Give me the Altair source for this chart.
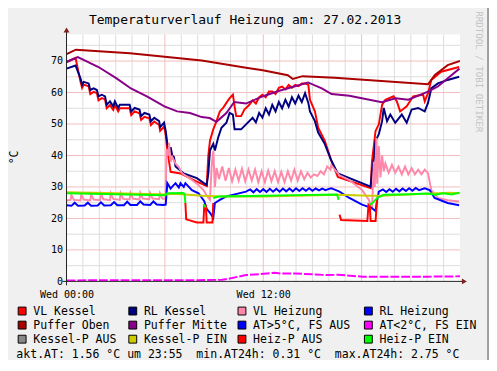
import altair as alt
import pandas as pd

FONT = "DejaVu Sans Mono"

title_text = "Temperaturverlauf Heizung am: 27.02.2013"
side_text = "RRDTOOL / TOBI OETIKER"
unit_text = "°C"
info_text = "akt.AT: 1.56 °C um 23:55  min.AT24h: 0.31 °C  max.AT24h: 2.75 °C"

series_names = ["VL Kessel", "RL Kessel", "VL Heizung", "RL Heizung",
                "Puffer Oben", "Puffer Mitte", "AT>5°C, FS AUS", "AT<2°C, FS EIN",
                "Kessel-P AUS", "Kessel-P EIN", "Heiz-P AUS", "Heiz-P EIN"]
series_colors = ["#FF0000", "#000080", "#FF88AA", "#0000FF",
                 "#AA0000", "#880088", "#0000FF", "#FF00FF",
                 "#888888", "#CCCC00", "#FF0000", "#00FF00"]

x_tick_hours = [0, 12]
x_tick_labels = ["Wed 00:00", "Wed 12:00"]
y_ticks = [0, 10, 20, 30, 40, 50, 60, 70]
x_grid_minor = [1, 2, 3, 4, 5, 7, 8, 9, 10, 11, 13, 14, 15, 16, 17, 19, 20, 21, 22, 23]
x_grid_major = [6, 12, 18]
y_grid_minor = [5, 15, 25, 35, 45, 55, 65, 75]
y_grid_major = [10, 20, 30, 40, 50, 60, 70]

# (hour, °C)
vl_kessel = [[(0, 69.7), (0.55, 71.0), (0.75, 66.0), (0.85, 63.5), (0.95, 61.5), (1.05, 62.5), (1.35, 62.0),
              (1.45, 59.5), (1.65, 60.2), (1.85, 59.8), (1.95, 57.5), (2.15, 58.2), (2.35, 57.8), (2.45, 55.0),
              (2.65, 56.0), (2.85, 54.5), (2.95, 56.0), (3.15, 54.0), (3.25, 55.0), (3.85, 55.0), (3.95, 52.8),
              (4.15, 54.0), (4.45, 53.4), (4.55, 51.3), (4.75, 52.3), (5.05, 51.8), (5.15, 49.7), (5.35, 50.8),
              (5.65, 49.7), (5.71, 47.8), (5.95, 49.2), (6.05, 46.5), (6.15, 41.6), (6.35, 34.8), (6.95, 34.3),
              (7.95, 31.7), (8.55, 30.3), (8.65, 40.0), (8.75, 44.7), (8.95, 48.3), (9.15, 50.9), (9.35, 54.0),
              (9.55, 55.1), (9.75, 56.7), (9.95, 58.2), (10.15, 59.3), (10.25, 55.6), (10.35, 52.5), (10.65, 52.5),
              (10.85, 54.6), (11.15, 56.1), (11.35, 57.5), (11.55, 56.5), (11.75, 58.5), (11.95, 59.3), (12.15, 58.5),
              (12.35, 60.3), (12.55, 60.3), (12.75, 59.5), (12.95, 61.5), (13.15, 61.9), (13.35, 61.0), (13.55, 62.4),
              (13.75, 61.5), (13.95, 62.4), (14.15, 62.0), (14.35, 62.9), (14.55, 62.9), (14.75, 62.4), (14.85, 57.7),
              (15.15, 54.0), (15.35, 48.8), (15.75, 44.7), (16.15, 38.4), (16.55, 33.2), (18.55, 29.6), (18.63, 38.0),
              (18.85, 47.8), (19.05, 49.9), (19.25, 56.1), (19.45, 57.7), (19.95, 58.8), (20.15, 57.2), (20.35, 54.0),
              (20.75, 55.6), (21.15, 58.8), (21.75, 59.3), (21.85, 57.2), (22.05, 59.8), (22.25, 64.0), (22.85, 66.6),
              (23.95, 68.1)]]

rl_kessel = [[(0, 67.6), (0.55, 68.6), (0.85, 64.5), (0.95, 62.4), (1.05, 63.4), (1.35, 62.9), (1.45, 60.8),
              (1.65, 61.3), (1.85, 60.8), (1.95, 58.8), (2.15, 59.3), (2.35, 58.8), (2.45, 56.1), (2.65, 57.2),
              (2.85, 55.6), (2.95, 57.2), (3.15, 55.1), (3.25, 56.1), (3.85, 56.1), (3.95, 54.0), (4.15, 55.1),
              (4.45, 54.6), (4.55, 52.5), (4.75, 53.5), (5.05, 53.0), (5.15, 50.9), (5.35, 52.0), (5.65, 50.9),
              (5.71, 49.0), (5.95, 50.4), (6.05, 47.8), (6.15, 43.7), (6.25, 40.5), (6.35, 42.6), (6.45, 40.0),
              (6.55, 39.5), (6.65, 36.5), (7.15, 34.3), (7.95, 32.8), (8.55, 30.6), (8.65, 34.3), (8.75, 41.6),
              (8.95, 43.7), (9.05, 41.6), (9.25, 45.7), (9.45, 48.8), (9.75, 50.4), (9.95, 53.5), (10.15, 53.0),
              (10.25, 48.3), (10.65, 48.3), (10.95, 49.9), (11.35, 52.0), (11.55, 50.5), (11.75, 53.5), (11.95, 52.0),
              (12.15, 55.0), (12.35, 53.0), (12.55, 56.1), (12.75, 54.0), (12.95, 57.0), (13.15, 55.0), (13.35, 57.7),
              (13.55, 55.5), (13.75, 58.5), (13.95, 56.5), (14.15, 59.0), (14.35, 57.0), (14.55, 59.8), (14.75, 56.7),
              (14.85, 54.0), (15.15, 50.9), (15.35, 47.3), (15.75, 43.7), (16.15, 38.4), (16.55, 34.3), (18.55, 30.1),
              (18.63, 35.0), (18.75, 39.0), (18.85, 44.7), (19.05, 46.8), (19.25, 50.9), (19.35, 55.1), (19.55, 50.9),
              (19.75, 53.0), (20.05, 50.4), (20.45, 53.0), (20.75, 50.4), (21.05, 54.6), (21.45, 55.1), (21.85, 54.0),
              (22.05, 56.7), (22.25, 61.3), (22.65, 62.9), (23.25, 64.0), (23.95, 65.0)]]

vl_heizung = [[(0, 25.7), (0.25, 25.9), (0.3, 27.4), (0.45, 25.9), (0.85, 25.7), (0.9, 27.5), (1.05, 26.0),
               (1.45, 25.7), (1.5, 27.6), (1.65, 26.0), (2.05, 25.8), (2.1, 27.8), (2.25, 26.1), (2.65, 25.8),
               (2.7, 27.9), (2.85, 26.2), (3.25, 25.9), (3.3, 28.0), (3.45, 26.2), (3.85, 26.0), (3.9, 28.1),
               (4.05, 26.3), (4.45, 26.0), (4.5, 28.1), (4.65, 26.3), (5.05, 26.1), (5.1, 28.1), (5.25, 26.3),
               (5.65, 26.1), (5.7, 28.0), (5.85, 26.3), (6.05, 26.2), (6.1, 42.0), (6.2, 40.0), (6.25, 44.0),
               (6.35, 38.0), (6.45, 39.5), (6.65, 37.4), (6.85, 36.3), (7.05, 34.3), (7.65, 32.2), (8.05, 30.6),
               (8.35, 29.0), (8.65, 26.5), (8.75, 25.9), (8.85, 36.3), (8.95, 41.5), (9.05, 30.0), (9.15, 36.0),
               (9.3, 32.5), (9.5, 36.5), (9.7, 32.0), (9.9, 36.0), (10.1, 31.8), (10.3, 35.5), (10.5, 32.0),
               (10.7, 35.8), (10.9, 31.8), (11.1, 35.5), (11.3, 32.0), (11.5, 35.5), (11.7, 31.5), (11.9, 35.0),
               (12.1, 31.5), (12.3, 35.2), (12.5, 31.8), (12.7, 35.0), (12.9, 31.5), (13.1, 34.8), (13.3, 31.5),
               (13.5, 35.0), (13.7, 32.0), (13.9, 35.5), (14.1, 32.0), (14.3, 35.0), (14.5, 32.5), (14.7, 34.5),
               (14.9, 33.0), (15.1, 34.0), (15.3, 33.5), (15.5, 35.0), (15.7, 34.0), (15.9, 36.5), (16.1, 35.5),
               (16.15, 36.9), (16.65, 33.7), (17.25, 32.2), (18.03, 29.0), (18.45, 25.9), (18.63, 22.8), (18.75, 38.0),
               (18.8, 30.0), (18.9, 45.6), (18.95, 31.0), (19.05, 43.0), (19.15, 33.0), (19.25, 40.0), (19.35, 35.0),
               (19.45, 37.5), (19.65, 34.5), (19.85, 37.0), (20.05, 34.5), (20.25, 36.5), (20.45, 34.0), (20.65, 36.5),
               (20.85, 34.0), (21.05, 36.0), (21.25, 34.0), (21.45, 35.5), (21.65, 34.0), (21.85, 35.5), (22.05, 34.3),
               (22.25, 29.0), (22.65, 26.5), (23.25, 25.8), (23.95, 25.4)]]

rl_heizung = [[(0, 24.2), (0.3, 24.0), (0.5, 25.0), (0.7, 24.0), (1.1, 24.1), (1.3, 25.0), (1.5, 24.0),
               (1.9, 24.1), (2.1, 25.1), (2.3, 24.1), (2.7, 24.2), (2.9, 25.2), (3.1, 24.2), (3.5, 24.2),
               (3.7, 25.3), (3.9, 24.3), (4.3, 24.3), (4.5, 25.4), (4.7, 24.4), (5.1, 24.3), (5.3, 25.4),
               (5.5, 24.4), (5.9, 24.3), (6.05, 24.4), (6.15, 31.2), (6.35, 29.5), (6.45, 30.1), (6.65, 31.2),
               (6.85, 29.8), (6.95, 31.2), (7.15, 30.0), (7.25, 31.2), (7.65, 29.0), (8.05, 28.0), (8.4, 25.5),
               (8.55, 23.0), (8.75, 21.8), (8.95, 20.2), (9.05, 24.9), (9.35, 25.9), (9.75, 27.0), (10.95, 28.5),
               (11.2, 29.2), (11.4, 28.3), (11.6, 29.3), (11.8, 28.4), (12.0, 29.3), (12.2, 28.4), (12.4, 29.4),
               (12.6, 28.5), (12.8, 29.4), (13.0, 28.5), (13.2, 29.5), (13.4, 28.6), (13.6, 29.5), (13.8, 28.6),
               (14.0, 29.6), (14.2, 28.7), (14.4, 29.6), (14.6, 28.8), (14.8, 29.6), (15.0, 28.8), (15.2, 29.5),
               (15.4, 28.9), (15.6, 29.5), (15.8, 29.0), (16.0, 29.4), (16.15, 29.6), (16.65, 28.5), (17.25, 26.5),
               (18.03, 24.4), (18.63, 23.3), (18.85, 22.3), (18.95, 26.0), (19.05, 28.5), (19.3, 29.2), (19.5, 28.4),
               (19.7, 29.3), (19.9, 28.5), (20.1, 29.4), (20.3, 28.6), (20.5, 29.5), (20.7, 28.7), (20.9, 29.6),
               (21.1, 28.8), (21.3, 29.7), (21.5, 29.0), (21.85, 29.6), (22.15, 29.0), (22.45, 26.5), (23.25, 24.9),
               (23.95, 24.2)]]

puffer_oben = [[(0, 72.2), (0.57, 73.6), (3.87, 72.5), (8.25, 70.2), (10.95, 67.9), (11.97, 67.1), (13.5, 65.5),
                (13.8, 64.3), (14.4, 65.2), (16.35, 64.7), (22.05, 62.6), (22.47, 65.6), (23.25, 68.7), (24, 70.0)]]

puffer_mitte = [[(0, 69.7), (0.69, 71.25), (1.95, 68.1), (3.05, 64.5), (3.93, 61.3), (4.9, 58.75), (5.97, 55.6),
                 (6.75, 54.0), (7.53, 53.5), (8.25, 52.2), (8.73, 51.9), (9.15, 50.7), (9.75, 53.5), (10.23, 57.0),
                 (10.95, 56.5), (11.95, 58.75), (12.93, 60.5), (14.73, 63.2), (15.57, 61.3), (16.17, 59.5),
                 (17.25, 59.0), (19.23, 56.9), (20.07, 58.2), (20.85, 57.7), (22.05, 60.3), (22.65, 61.9), (23.97, 67.6)]]

at_gt5 = []

at_lt2 = [[(0, 0.3), (2, 0.35), (5, 0.4), (8, 0.4), (9.5, 0.5), (9.95, 0.9), (10.95, 2.0), (11.8, 2.3),
           (12.7, 2.75), (13.1, 2.5), (13.95, 2.5), (15.95, 2.0), (16.55, 2.1), (18.03, 1.5), (22.05, 1.5), (24, 1.6)]]

kessel_p_aus = []

kessel_p_ein = [[(0, 28.3), (3, 28.0), (6.1, 27.6), (6.5, 27.8), (7.2, 27.6), (8.3, 27.2), (9.5, 27.0),
                 (12, 27.0), (16.6, 27.5), (18.5, 27.2), (19.2, 27.2), (23.3, 28.2), (24, 28.0)]]

heiz_p_aus = [[(7.25, 24.9), (7.3, 19.7), (7.95, 18.7), (8.35, 18.7), (8.4, 24.0), (8.5, 24.0), (8.55, 18.7),
               (8.9, 18.7), (8.95, 24.9)],
              [(16.65, 21.2), (16.75, 19.5), (18.35, 19.2), (18.42, 24.4), (18.5, 24.0), (18.55, 19.2),
               (18.85, 19.2), (18.95, 26.5)]]

heiz_p_ein = [[(0, 28.0), (3, 27.7), (6.0, 27.4), (6.15, 28.0), (7.1, 28.1), (7.2, 27.8), (7.25, 24.9)],
              [(8.35, 24.5), (8.5, 23.5)],
              [(8.95, 26.5), (9.3, 27.0), (12, 27.2), (14, 27.4), (16.5, 27.6), (16.6, 25.9)],
              [(18.45, 24.4), (18.6, 24.6), (18.95, 26.5), (19.35, 27.5), (21, 27.7), (22, 27.9), (22.5, 27.5),
               (23, 28.0), (23.5, 27.6), (23.95, 28.2)]]

series_data = [vl_kessel, rl_kessel, vl_heizung, rl_heizung, puffer_oben, puffer_mitte,
               at_gt5, at_lt2, kessel_p_aus, kessel_p_ein, heiz_p_aus, heiz_p_ein]

GRID_MINOR = "#DCDCDC"
GRID_MAJOR = "#F2BCBC"
AXIS_COLOR = "#202020"
ARROW_COLOR = "#7F1F1F"

W, H = 400, 251
YMAX = 78.44

xscale = alt.Scale(domain=[0, 24], nice=False, zero=False)
yscale = alt.Scale(domain=[0, YMAX], nice=False, zero=False)

label_expr = " : ".join(f"datum.value == {h} ? '{t}'" for h, t in zip(x_tick_hours, x_tick_labels)) + " : ''"

XAX = alt.Axis(values=x_tick_hours, labelExpr=label_expr, title=None, domain=False, ticks=False,
               grid=False, labelFont=FONT, labelFontSize=10.2, labelPadding=8, labelColor="black",
               labelFlush=False, labelOverlap=False)
YAX = alt.Axis(values=y_ticks, title=None, domain=False, ticks=False, grid=False, labelFont=FONT,
               labelFontSize=10.2, labelPadding=4, labelColor="black")

layers = []

def vgrid(vals, color):
    return alt.Chart(pd.DataFrame({"hour": vals})).mark_rule(color=color, strokeWidth=1).encode(
        x=alt.X("hour:Q", scale=xscale, axis=XAX))

def hgrid(vals, color):
    return alt.Chart(pd.DataFrame({"value": vals})).mark_rule(color=color, strokeWidth=1).encode(
        y=alt.Y("value:Q", scale=yscale, axis=YAX))

layers += [vgrid(x_grid_minor, GRID_MINOR), hgrid(y_grid_minor, GRID_MINOR),
           vgrid(x_grid_major, GRID_MAJOR), hgrid(y_grid_major, GRID_MAJOR)]

for name, color, segs in zip(series_names, series_colors, series_data):
    rows = []
    for si, seg in enumerate(segs):
        for h, v in seg:
            rows.append({"hour": h, "value": v, "seg": si})
    if not rows:
        continue
    df = pd.DataFrame(rows)
    mk = dict(color=color, strokeWidth=2, clip=True)
    if name == "AT<2°C, FS EIN":
        mk["strokeDash"] = [9, 2]
    layers.append(alt.Chart(df).mark_line(**mk).encode(
        x=alt.X("hour:Q", scale=xscale, axis=XAX),
        y=alt.Y("value:Q", scale=yscale, axis=YAX),
        detail="seg:N"))

one = pd.DataFrame({"k": [0]})
# axis lines and arrows
layers.append(alt.Chart(one).mark_rule(color=AXIS_COLOR, strokeWidth=1).encode(
    x=alt.value(-4), x2=alt.value(W + 4), y=alt.value(H)))
layers.append(alt.Chart(one).mark_rule(color=AXIS_COLOR, strokeWidth=1).encode(
    x=alt.value(0), y=alt.value(H + 4), y2=alt.value(-4)))
layers.append(alt.Chart(one).mark_point(shape="M-0.83,-1L0.83,0L-0.83,1Z", filled=True, size=36,
                                         color=ARROW_COLOR, opacity=1).encode(
    x=alt.value(W + 4.5), y=alt.value(H)))
layers.append(alt.Chart(one).mark_point(shape="M-1,0.83L0,-0.83L1,0.83Z", filled=True, size=36,
                                         color=ARROW_COLOR, opacity=1).encode(
    x=alt.value(0), y=alt.value(-4.5)))
# right frame shade
layers.append(alt.Chart(one).mark_rule(color="#9E9E9E", strokeWidth=2).encode(
    x=alt.value(428.5), y=alt.value(-30), y2=alt.value(340)))

def text_layer(txt, x, y, size, **kw):
    return alt.Chart(pd.DataFrame({"t": [txt]})).mark_text(font=FONT, fontSize=size, **kw).encode(
        text="t:N", x=alt.value(x), y=alt.value(y))

layers.append(text_layer(title_text, 181.5, -15, 13.2, align="center", baseline="middle", color="black"))
layers.append(text_layer(unit_text, -53, 125, 11.7, align="center", baseline="middle", angle=270, color="black"))
layers.append(text_layer(side_text, 419.5, -23.5, 9.3, align="left", baseline="middle", angle=90, color="#C4C4C4"))
layers.append(text_layer(info_text.replace(" ", "\u00a0"), -51, 324.5, 11.7, align="left", baseline="middle",
                         color="black"))

# legend: four columns, each its own legend
N_COLS = 4
legend_col_x = [-51, 61.5, 172.5, 301]
for c in range(N_COLS):
    names = series_names[c::N_COLS]
    cols = series_colors[c::N_COLS]
    layers.append(alt.Chart(pd.DataFrame({"series": names})).mark_square(
        size=64, stroke="black", strokeWidth=1, filled=True).encode(
        x=alt.value(-1000), y=alt.value(-1000),
        fill=alt.Fill("series:N", scale=alt.Scale(domain=names, range=cols),
                      legend=alt.Legend(title=None, orient="none", legendX=legend_col_x[c], legendY=275.3,
                                        direction="vertical", rowPadding=0.3, symbolType="square",
                                        symbolSize=64, symbolStrokeColor="black", symbolStrokeWidth=1,
                                        symbolOpacity=1, labelFont=FONT, labelFontSize=11.7,
                                        labelColor="black", labelOffset=5.5, padding=0, labelLimit=300))))

chart = alt.layer(*layers).resolve_scale(fill="independent").properties(
    width=W, height=H,
    autosize=alt.AutoSizeParams(type="none"),
    padding={"left": 59.5, "top": 24, "right": 29.5, "bottom": 77},
    background="#F0F0F0",
).configure_view(fill="white", stroke=None)

chart.save("out.html", embed_options={"renderer": "svg", "actions": False})
